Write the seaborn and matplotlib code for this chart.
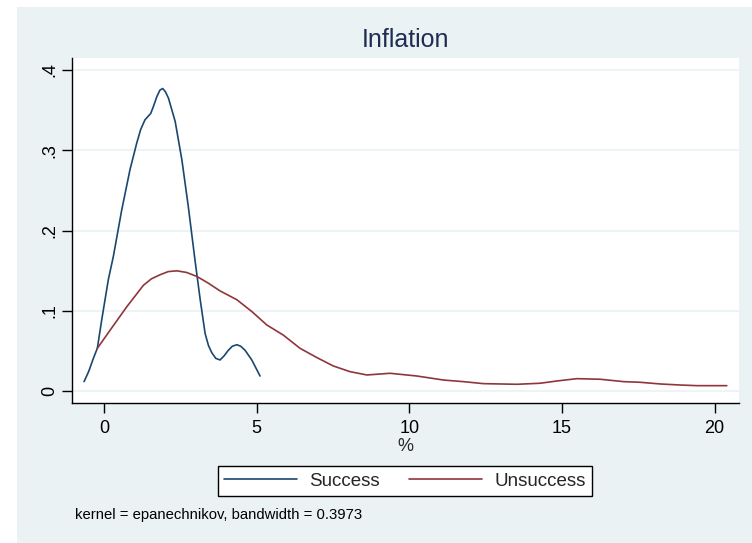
import matplotlib
matplotlib.use("Agg")
import matplotlib.pyplot as plt
from matplotlib.patches import Rectangle
import numpy as np
import pandas as pd
import seaborn as sns

# Kernel density estimates of inflation (%), by outcome group
success_x = [-0.655, -0.50, -0.35, -0.22, -0.076, 0.14, 0.305, 0.58, 0.85, 1.07,
             1.20, 1.34, 1.53, 1.63, 1.73, 1.83, 1.92, 2.01, 2.11, 2.33,
             2.55, 2.76, 2.98, 3.15, 3.31, 3.42, 3.53, 3.66, 3.80, 3.93,
             4.07, 4.20, 4.35, 4.48, 4.62, 4.84, 5.11]
success_y = [0.012, 0.025, 0.041, 0.0535, 0.089, 0.139, 0.168, 0.226, 0.276, 0.309,
             0.326, 0.338, 0.346, 0.356, 0.367, 0.375, 0.377, 0.373, 0.365, 0.336,
             0.288, 0.230, 0.163, 0.114, 0.072, 0.057, 0.048, 0.041, 0.039, 0.044,
             0.051, 0.056, 0.058, 0.056, 0.051, 0.039, 0.019]

unsuccess_x = [-0.22, 0.197, 0.74, 1.29, 1.55, 1.83, 2.10, 2.38, 2.70, 3.04,
               3.40, 3.80, 4.35, 4.85, 5.33, 5.87, 6.42, 6.97, 7.51, 8.06,
               8.61, 9.37, 10.25, 11.12, 11.77, 12.43, 13.52, 14.29, 14.83, 15.49,
               16.25, 17.02, 17.56, 18.22, 18.87, 19.42, 20.4]
unsuccess_y = [0.0535, 0.076, 0.105, 0.132, 0.140, 0.145, 0.149, 0.150, 0.148, 0.143,
               0.135, 0.125, 0.114, 0.099, 0.0826, 0.070, 0.0535, 0.042, 0.0315, 0.0244,
               0.0203, 0.0224, 0.019, 0.014, 0.012, 0.0095, 0.0087, 0.010, 0.0128, 0.0157,
               0.015, 0.012, 0.0112, 0.0091, 0.0078, 0.007, 0.007]

groups = ["Success", "Unsuccess"]
x_ticks = [0, 5, 10, 15, 20]
y_ticks = [0, 0.1, 0.2, 0.3, 0.4]
y_tick_labels = ["0", ".1", ".2", ".3", ".4"]

df = pd.DataFrame({
    "x": success_x + unsuccess_x,
    "density": success_y + unsuccess_y,
    "group": [groups[0]] * len(success_x) + [groups[1]] * len(unsuccess_x),
})

sns.set_style("white")
plt.rcParams["font.family"] = ["Liberation Sans", "DejaVu Sans"]

BG = "#EAF2F3"
NAVY = "#1A476F"
MAROON = "#90353B"

fig = plt.figure(figsize=(7.52, 5.43), dpi=100, facecolor="white")
fig.patches.append(Rectangle((17 / 752, 0), 1 - 17 / 752, 1 - 7 / 543,
                             transform=fig.transFigure, facecolor=BG,
                             edgecolor="none", zorder=-10))

ax = fig.add_axes([72 / 752, 1 - 403 / 543, (739 - 72) / 752, (403 - 58) / 543])
ax.set_facecolor("white")

sns.lineplot(data=df, x="x", y="density", hue="group", hue_order=groups,
             palette=[NAVY, MAROON], estimator=None, sort=False,
             linewidth=1.2, ax=ax, legend=False)

ax.set_xlim(-1.05, 20.8)
ax.set_ylim(-0.0146, 0.415)
ax.set_xticks(x_ticks)
ax.set_yticks(y_ticks)
ax.set_yticklabels(y_tick_labels, rotation=90, va="center")
ax.tick_params(axis="both", direction="out", length=7, width=1, color="black",
               labelsize=13, labelcolor="black", left=True, bottom=True)
ax.tick_params(axis="x", pad=5)
ax.tick_params(axis="y", pad=3)
for side in ["top", "right"]:
    ax.spines[side].set_visible(False)
for side in ["left", "bottom"]:
    ax.spines[side].set_color("black")
    ax.spines[side].set_linewidth(1)
ax.grid(axis="y", color=BG, linewidth=1.2)
ax.set_axisbelow(True)
ax.set_xlabel("%", fontsize=13, labelpad=1)
ax.set_ylabel("")

fig.text(405 / 752, 1 - 40 / 543, "Inflation", ha="center", va="center",
         fontsize=18, color="#1E2D53")

handles = [plt.Line2D([], [], color=NAVY, linewidth=1.2),
           plt.Line2D([], [], color=MAROON, linewidth=1.2)]
leg = fig.legend(handles, groups, loc="center", ncol=2,
                 bbox_to_anchor=(405 / 752, 1 - 481 / 543), fontsize=13.5,
                 frameon=True, fancybox=False, handlelength=3.9,
                 handletextpad=0.65, columnspacing=1.55, borderpad=0.35,
                 borderaxespad=0)
leg.get_frame().set_edgecolor("black")
leg.get_frame().set_facecolor("white")
leg.get_frame().set_linewidth(1)
leg.get_frame().set_alpha(1)

fig.text(75 / 752, 1 - 515 / 543, "kernel = epanechnikov, bandwidth = 0.3973",
         ha="left", va="center", fontsize=10.7, color="black")

fig.savefig("out.png", dpi=100, facecolor=fig.get_facecolor())
